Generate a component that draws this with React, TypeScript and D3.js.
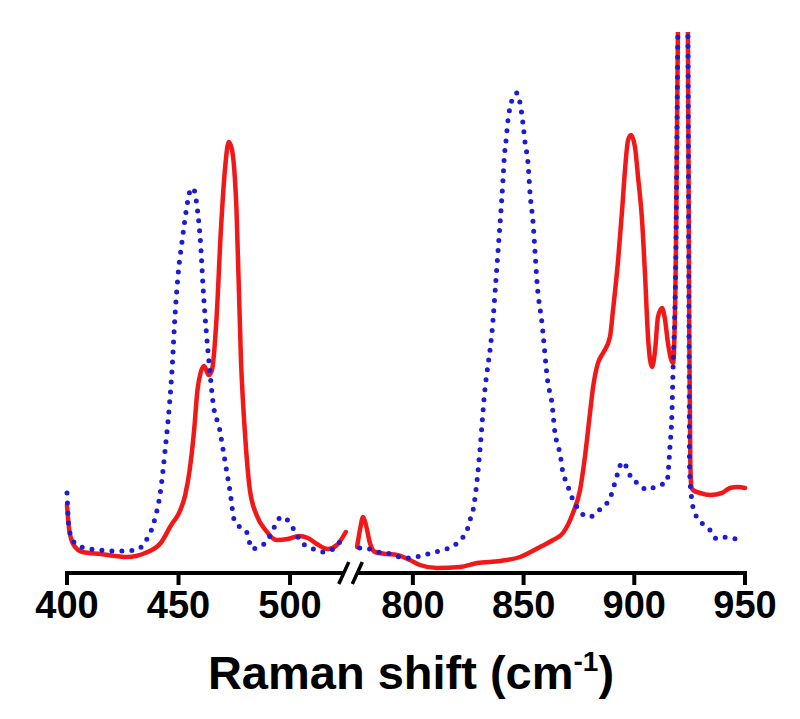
import * as React from "react"
import * as d3 from "d3"

// Raman shift (cm-1) and intensity (a.u.), low-wavenumber part of the broken axis
const redLowShift = [400, 401, 403, 407, 415, 427, 435, 442, 447, 450, 453, 455, 457, 458.5, 460, 461.5, 463.5, 465, 467, 469, 471, 472.5, 474, 476, 478, 480, 482, 485, 489, 494, 499, 504, 508, 512, 517, 521, 525]
const redLowInt = [67, 42, 27, 20, 18, 15, 19, 29, 48, 58, 77, 102, 142, 182, 200, 206, 197, 202, 252, 342, 407, 430, 422, 362, 212, 132, 82, 57, 42, 32, 33, 36, 34, 28, 23, 27, 40]

const blueLowShift = [400, 401, 403.5, 408, 415, 422, 431, 435, 439, 442, 444, 446, 447, 448.5, 450, 451.5, 453.5, 455, 456.5, 458.5, 460, 461, 462.5, 464, 465.5, 468.5, 470, 471.5, 473, 475, 477.5, 480.5, 483, 486, 490, 493, 496, 500, 502.5, 505, 509.5, 514, 518.5, 523]
const blueLowInt = [79, 42, 29, 24, 22, 21, 22, 30, 50, 82, 122, 169, 199, 259, 302, 329, 362, 380, 384, 362, 325, 285, 239, 202, 169, 142, 122, 102, 82, 52, 45, 40, 23, 25, 32, 45, 55, 49, 39, 30, 24, 20, 22, 32]

// high-wavenumber part
const redHighShift = [774.8, 776.1, 777.5, 778.8, 780.6, 782.9, 788.3, 792.8, 798.7, 803.2, 810.9, 821.3, 829, 839.4, 848.4, 857.4, 863.3, 867.8, 872.3, 875.5, 877.7, 880, 881.4, 883.6, 885.9, 889, 890.4, 892.7, 894.5, 895.8, 897.2, 898.5, 900.3, 901.7, 903.5, 904.9, 906.2, 908, 909.4, 910.7, 912.5, 913.9, 915.2, 917.5, 918.8, 919.7, 921.1, 922, 923.3, 924.2, 924.8, 925.3, 925.8, 926.5, 929.7, 934.2, 939.6, 943.2, 946.8, 950]
const redHighInt = [25, 42, 55, 47, 29, 20, 18, 17, 12, 7, 4, 5, 9, 11, 15, 25, 32, 39, 59, 82, 115, 159, 185, 209, 219, 235, 262, 312, 362, 402, 432, 437, 425, 395, 352, 295, 235, 205, 222, 255, 264, 252, 229, 209, 322, 540, 680, 720, 600, 540, 250, 110, 85, 82, 79, 77, 79, 84, 85, 84]

const blueHighShift = [776, 778.4, 783.8, 788.3, 794.2, 799.6, 804.6, 809.1, 813.1, 817.7, 821.3, 824.5, 825.8, 827.2, 828.5, 830.3, 832.1, 836.2, 837.5, 838.5, 839.8, 840.7, 841.2, 842.1, 843, 844.8, 847, 848.4, 849.7, 850.7, 852, 852.9, 854.3, 855.2, 856.1, 858.3, 861, 862.8, 864.2, 865.1, 866.4, 867.8, 869.6, 871, 873.2, 875.5, 880, 883.6, 887.7, 889.9, 891.3, 892.7, 894.5, 897.2, 899, 901.7, 905.7, 910.2, 914.7, 916.1, 917, 917.5, 918.8, 919.7, 921.1, 922, 923.3, 924.2, 924.6, 925, 926, 927.4, 930.5, 934.2, 937.3, 941.8, 946.4, 947.7]
const blueHighInt = [24, 24, 20, 19, 15, 14, 17, 19, 22, 25, 32, 42, 52, 62, 82, 122, 172, 252, 292, 322, 362, 392, 412, 432, 452, 472, 479, 469, 449, 429, 409, 379, 349, 319, 289, 249, 189, 169, 139, 129, 119, 99, 89, 79, 69, 60, 55, 61, 69, 79, 90, 100, 110, 102, 92, 89, 82, 86, 90, 125, 159, 202, 322, 540, 680, 720, 600, 540, 300, 100, 72, 59, 49, 42, 33, 35, 33, 33]

const lowTicks = [400, 450, 500]
const highTicks = [800, 850, 900, 950]
const xTitle = "Raman shift (cm"

const width = 800
const height = 719
const axisY = 573
const font = "Arial, 'Liberation Sans', sans-serif"

export default function App() {
  const xLow = d3.scaleLinear().domain([400, 525]).range([67, 345.8])
  const xHigh = d3.scaleLinear().domain([774, 950]).range([355.3, 745])
  const y = d3.scaleLinear().domain([0, 540]).range([572, 32])

  const makeLine = (x) =>
    d3
      .line()
      .x((d) => x(d[0]))
      .y((d) => y(d[1]))
      .curve(d3.curveMonotoneX)

  const zip = (a, b) => a.map((v, i) => [v, b[i]])

  const red = "#f21818"
  const blue = "#1c1cd2"

  const segments = [
    { x: xLow, red: zip(redLowShift, redLowInt), blue: zip(blueLowShift, blueLowInt) },
    { x: xHigh, red: zip(redHighShift, redHighInt), blue: zip(blueHighShift, blueHighInt) },
  ]

  const lowEnd = xLow.range()[1]
  const highStart = xHigh.range()[0]

  return (
    <svg
      width={width}
      height={height}
      style={{ position: "absolute", left: 0, top: 0, background: "#fff" }}
    >
      <defs>
        <clipPath id="plot-clip">
          <rect x={0} y={y(540)} width={width} height={axisY - y(540)} />
        </clipPath>
      </defs>
      <g clipPath="url(#plot-clip)">
        {segments.map((s, i) => (
          <g key={i}>
            <path
              d={makeLine(s.x)(s.red)}
              fill="none"
              stroke={red}
              strokeWidth={4.5}
              strokeLinejoin="round"
              strokeLinecap="round"
            />
            <path
              d={makeLine(s.x)(s.blue)}
              fill="none"
              stroke={blue}
              strokeWidth={5}
              strokeDasharray="0 10"
              strokeLinecap="round"
            />
          </g>
        ))}
      </g>

      {/* broken x axis */}
      <g stroke="#000" strokeWidth={4} fill="none">
        <line x1={xLow(400) - 2} x2={lowEnd - 2} y1={axisY} y2={axisY} />
        <line x1={highStart + 2} x2={xHigh(950) + 2} y1={axisY} y2={axisY} />
        <line x1={lowEnd - 7} y1={axisY + 11} x2={lowEnd + 3} y2={axisY - 11} strokeWidth={3.5} />
        <line x1={highStart - 3} y1={axisY + 11} x2={highStart + 7} y2={axisY - 11} strokeWidth={3.5} />
        {lowTicks.map((t) => (
          <line key={t} x1={xLow(t)} x2={xLow(t)} y1={axisY} y2={axisY + 12} />
        ))}
        {highTicks.map((t) => (
          <line key={t} x1={xHigh(t)} x2={xHigh(t)} y1={axisY} y2={axisY + 12} />
        ))}
      </g>
      <g fontFamily={font} fontWeight="bold" fontSize={38} textAnchor="middle" fill="#000">
        {lowTicks.map((t) => (
          <text key={t} x={xLow(t)} y={618}>
            {t}
          </text>
        ))}
        {highTicks.map((t) => (
          <text key={t} x={xHigh(t)} y={618}>
            {t}
          </text>
        ))}
      </g>
      <text
        x={411}
        y={689}
        fontFamily={font}
        fontWeight="bold"
        fontSize={47}
        textAnchor="middle"
        fill="#000"
      >
        {xTitle}
        <tspan fontSize={28} dy={-18}>
          -1
        </tspan>
        <tspan dy={18}>)</tspan>
      </text>
    </svg>
  )
}
